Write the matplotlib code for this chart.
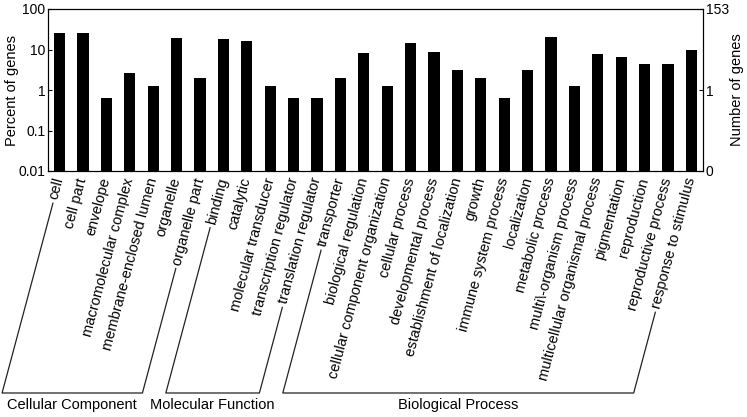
import numpy as np
import matplotlib.pyplot as plt
from matplotlib.lines import Line2D

plt.rcParams['font.family'] = ['Liberation Sans', 'DejaVu Sans']

# GO terms and the percent of genes in each
terms = ['cell', 'cell part', 'envelope', 'macromolecular complex', 'membrane-enclosed lumen',
         'organelle', 'organelle part', 'binding', 'catalytic', 'molecular transducer',
         'transcription regulator', 'translation regulator', 'transporter',
         'biological regulation', 'cellular component organization', 'cellular process',
         'developmental process', 'establishment of localization', 'growth',
         'immune system process', 'localization', 'metabolic process',
         'multi\\-organism process', 'multicellular organismal process', 'pigmentation',
         'reproduction', 'reproductive process', 'response to stimulus']
percent = [25.3, 25.3, 0.64, 2.59, 1.27, 18.7, 1.95, 18.0, 16.4, 1.27,
           0.64, 0.64, 1.95, 8.3, 1.27, 14.6, 8.8, 3.18, 1.95,
           0.64, 3.18, 19.8, 1.27, 7.7, 6.4, 4.5, 4.5, 9.7]

# group name, first term index, last term index
groups = [('Cellular Component', 0, 6),
          ('Molecular Function', 7, 11),
          ('Biological Process', 12, 27)]

right_ticks = [0.01, 1, 100]
right_labels = ['0', '1', '153']

W, H = 747, 417
fig = plt.figure(figsize=(W / 100, H / 100), dpi=100)
ax = fig.add_axes([48 / W, 1 - 171 / H, 655 / W, 162 / H])

x = np.arange(len(terms))
ax.bar(x, percent, width=0.48, color='black', bottom=0.01)
ax.set_yscale('log')
ax.set_ylim(0.01, 100)
ax.set_xlim(-0.5, len(terms) - 0.5)
ax.set_yticks([0.01, 0.1, 1, 10, 100])
ax.set_yticklabels(['0.01', '0.1', '1', '10', '100'], fontsize=10)
ax.minorticks_off()
ax.set_ylabel('Percent of genes', fontsize=10.5)
ax.yaxis.set_label_coords(-29 / 655, 0.5)

ax.set_xticks(x)
rot = 75
fs = 10.5
ax.set_xticklabels(terms, rotation=rot, ha='right', va='center',
                   rotation_mode='anchor', fontsize=fs)
ax.tick_params(axis='x', length=0, pad=5)
ax.set_xticks(x[:-1] + 0.5, minor=True)
ax.tick_params(axis='x', which='minor', direction='in', top=True, bottom=True, length=3)
ax.tick_params(axis='y', direction='in', length=3, pad=2)

ax2 = ax.twinx()
ax2.set_yscale('log')
ax2.set_ylim(0.01, 100)
ax2.set_yticks(right_ticks)
ax2.set_yticklabels(right_labels, fontsize=10)
ax2.minorticks_off()
ax2.tick_params(axis='y', direction='in', length=3, pad=2)
ax2.set_ylabel('Number of genes', fontsize=10.5)
ax2.yaxis.set_label_coords(1 + 27 / 655, 0.5)

# brackets grouping the labels
fig.canvas.draw()
renderer = fig.canvas.get_renderer()
labels = ax.get_xticklabels()
th = np.radians(rot)
h = fs * 100 / 72
y_bot = H - 393


def label_start(i):
    bb = labels[i].get_window_extent(renderer)
    cx, cy = (bb.x0 + bb.x1) / 2, (bb.y0 + bb.y1) / 2
    L = (bb.height - h * np.cos(th)) / np.sin(th)
    sx = cx - (L / 2 + 4) * np.cos(th)
    sy = cy - (L / 2 + 4) * np.sin(th)
    return sx, sy


for name, i0, i1 in groups:
    pts = []
    for i in (i0, i1):
        sx, sy = label_start(i)
        bx = sx - (sy - y_bot) / np.tan(th)
        pts.append(((sx, sy), (bx, y_bot)))
    (s0, b0), (s1, b1) = pts
    xs = [s0[0], b0[0], b1[0], s1[0]]
    ys = [s0[1], b0[1], b1[1], s1[1]]
    fig.add_artist(Line2D(np.array(xs) / W, np.array(ys) / H, color='#222222', lw=0.9))
    fig.text((b0[0] + b1[0]) / 2 / W, 12 / H, name, ha='center', va='center', fontsize=10.5)

fig.savefig('out.png', dpi=100)
